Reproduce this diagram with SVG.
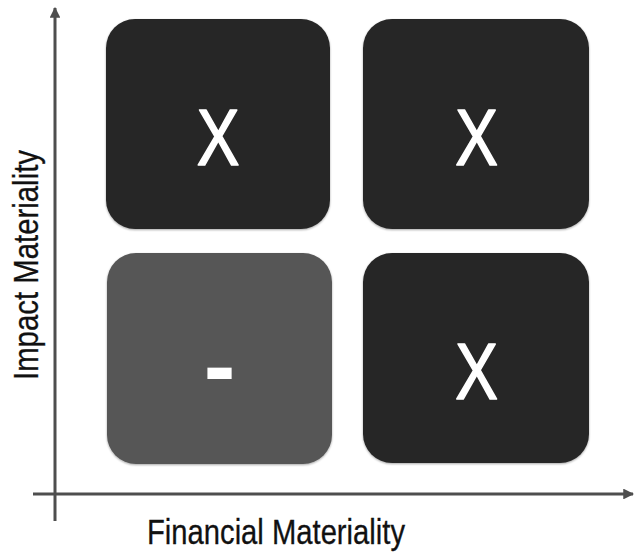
<svg xmlns="http://www.w3.org/2000/svg" width="635" height="552" viewBox="0 0 635 552">
  <style>
    .cell { stroke: none; filter: url(#soft); }
    .dark { fill: #262626; }
    .mid { fill: #565656; }
    .mark { font-family: "Liberation Sans", Arial, sans-serif; fill: #ffffff; text-anchor: middle; }
    .xmark { stroke: #ffffff; stroke-width: 1.6; stroke-linejoin: round; }
    .axis-label { font-family: "Liberation Sans", Arial, sans-serif; font-size: 35px; fill: #111111; stroke: #111111; stroke-width: 0.3; }
    .axis { stroke: #4e4e4e; stroke-width: 3; fill: none; }
    .axis-shadow { stroke: #bdbdbd; stroke-width: 3; fill: none; filter: url(#blur); }
  </style>
  <defs>
    <marker id="head" viewBox="0 0 10 10" refX="9" refY="5" markerWidth="3.6" markerHeight="3.6" orient="auto" markerUnits="strokeWidth">
      <path d="M0,0 L10,5 L0,10 Z" fill="#4e4e4e"/>
    </marker>
    <filter id="blur" x="-5%" y="-200%" width="110%" height="500%">
      <feGaussianBlur stdDeviation="1.5"/>
    </filter>
    <filter id="soft" x="-5%" y="-5%" width="110%" height="110%">
      <feGaussianBlur in="SourceAlpha" stdDeviation="1.2" result="b"/>
      <feOffset in="b" dx="0" dy="1" result="o"/>
      <feComponentTransfer in="o" result="s">
        <feFuncA type="linear" slope="0.35"/>
      </feComponentTransfer>
      <feMerge>
        <feMergeNode in="s"/>
        <feMergeNode in="SourceGraphic"/>
      </feMerge>
    </filter>
  </defs>

  <rect width="635" height="552" fill="#ffffff"/>

  <!-- axes -->
  <g id="connectors">
    <line class="axis-shadow" x1="33" y1="497" x2="628" y2="497"/>
    <line class="axis" x1="55" y1="521" x2="55" y2="8" marker-end="url(#head)"/>
    <line class="axis" x1="33" y1="494" x2="633" y2="494" marker-end="url(#head)"/>
  </g>

  <!-- quadrant cells -->
  <g id="cell-top-left">
    <rect class="cell dark" x="106" y="19" width="224" height="210" rx="29" ry="29"/>
    <text class="mark xmark" font-size="80" transform="translate(218,164.5) scale(0.8,1)">X</text>
  </g>
  <g id="cell-top-right">
    <rect class="cell dark" x="363" y="19" width="226" height="210" rx="29" ry="29"/>
    <text class="mark xmark" font-size="80" transform="translate(476.5,164.5) scale(0.8,1)">X</text>
  </g>
  <g id="cell-bottom-left">
    <rect class="cell mid" x="107" y="253" width="225" height="211" rx="29" ry="29"/>
    <text class="mark" font-size="95" font-weight="bold" x="219.5" y="398">-</text>
  </g>
  <g id="cell-bottom-right">
    <rect class="cell dark" x="363" y="253" width="226" height="210" rx="29" ry="29"/>
    <text class="mark xmark" font-size="80" transform="translate(476.5,398.5) scale(0.8,1)">X</text>
  </g>

  <!-- axis labels -->
  <g id="label-x">
    <text class="axis-label" x="147" y="544" textLength="258" lengthAdjust="spacingAndGlyphs">Financial Materiality</text>
  </g>
  <g id="label-y">
    <text class="axis-label" transform="translate(38,380) rotate(-90)" x="0" y="0" textLength="230" lengthAdjust="spacingAndGlyphs">Impact Materiality</text>
  </g>
</svg>
